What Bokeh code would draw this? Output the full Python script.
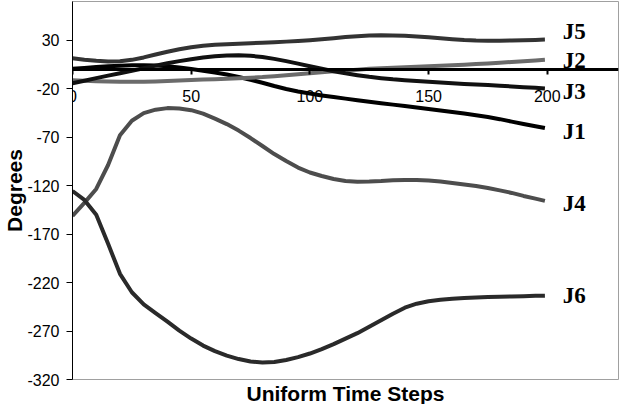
from bokeh.plotting import figure
from bokeh.models import FixedTicker, Title, Range1d
from bokeh.core.properties import value
from bokeh.embed import file_html
from bokeh.resources import INLINE

steps = [0, 5, 10, 15, 20, 25, 30, 35, 40, 45, 50, 55, 60, 65, 70, 75, 80, 85, 90, 95,
         100, 105, 110, 115, 120, 125, 130, 135, 140, 145, 150, 155, 160, 165, 170, 175,
         180, 185, 190, 195, 199]

j1 = [0.5, 1.5, 2.4, 3.2, 3.8, 4.2, 4.3, 4.0, 3.2, 1.9, 0.3, -1.4, -3.2, -5.4, -7.9, -10.8,
      -13.8, -17.2, -20.3, -22.9, -25.0, -26.9, -28.6, -30.2, -31.8, -33.4, -34.9, -36.4,
      -37.9, -39.4, -41.0, -42.5, -44.1, -45.6, -47.3, -49.2, -51.4, -53.9, -56.4, -58.7, -60.6]
j2 = [-11.2, -11.8, -12.3, -12.6, -12.8, -12.9, -12.8, -12.5, -12.1, -11.6, -11.1, -10.6,
      -10.1, -9.6, -9.1, -8.6, -8.0, -7.1, -6.1, -5.1, -4.0, -3.0, -2.0, -1.1, -0.3, 0.5,
      1.2, 1.7, 2.2, 2.7, 3.2, 3.8, 4.3, 4.8, 5.4, 6.1, 6.8, 7.6, 8.4, 9.2, 9.9]
j3 = [-14.3, -11.7, -9.1, -6.5, -4.0, -1.4, 1.2, 3.8, 6.3, 8.5, 10.5, 12.2, 13.5, 14.3, 14.5,
      14.0, 12.7, 10.8, 8.5, 5.9, 3.2, 0.6, -1.9, -4.1, -6.0, -7.7, -9.1, -10.3, -11.2, -12.0,
      -12.7, -13.5, -14.3, -15.0, -15.6, -16.2, -16.9, -17.6, -18.4, -19.1, -19.7]
j4 = [-151.2, -137.8, -123.4, -98.7, -68.0, -53.0, -45.2, -41.6, -40.0, -40.5, -42.1, -45.7,
      -50.8, -56.5, -63.2, -70.9, -79.1, -87.4, -94.6, -101.3, -106.4, -110.0, -113.1, -115.2,
      -115.9, -115.7, -115.2, -114.4, -114.1, -114.1, -114.6, -115.7, -117.2, -118.8, -120.3,
      -122.4, -124.9, -127.5, -130.6, -133.4, -135.7]
j5 = [11.5, 10.0, 8.9, 8.2, 8.3, 9.8, 12.3, 15.3, 18.2, 20.8, 22.8, 24.3, 25.4, 26.0, 26.5,
      27.0, 27.4, 28.0, 28.6, 29.3, 30.1, 31.1, 32.2, 33.3, 34.2, 34.8, 35.1, 35.0, 34.6, 34.0,
      33.1, 32.1, 31.1, 30.3, 29.8, 29.6, 29.6, 29.8, 30.1, 30.4, 30.7]
j6 = [-125.5, -134.7, -150.0, -180.0, -211.0, -230.0, -242.5, -251.5, -260.3, -269.6, -277.8,
      -285.0, -290.7, -295.3, -298.9, -301.5, -302.5, -302.0, -299.9, -296.9, -293.2, -288.6,
      -283.5, -277.8, -272.2, -265.5, -258.8, -252.1, -245.9, -241.8, -239.2, -237.7, -236.6,
      -235.9, -235.4, -234.9, -234.6, -234.3, -234.0, -233.7, -233.5]

series_colors = ["#000000", "#6b6b6b", "#111111", "#4d4d4d", "#333333", "#2a2a2a"]

label_names = ["J5", "J2", "J3", "J1", "J4", "J6"]
label_y = [39.0, 9.0, -23.0, -64.0, -138.0, -233.5]
label_x = [206.5, 206.5, 206.5, 206.5, 206.5, 206.5]

x_ticks = [0, 50, 100, 150, 200]
y_ticks = [30, -20, -70, -120, -170, -220, -270, -320]

p = figure(width=620, height=404, x_range=Range1d(0, 230), y_range=Range1d(-320, 70),
           output_backend="svg", toolbar_location=None,
           min_border_left=10, min_border_right=2, min_border_top=1, min_border_bottom=0)

p.xgrid.visible = False
p.ygrid.visible = False
p.outline_line_color = "#a0a0a0"
p.outline_line_width = 1
p.background_fill_color = "white"
p.border_fill_color = "white"

for ys, c in zip([j1, j2, j3, j4, j5, j6], series_colors):
    p.line(steps, ys, line_color=c, line_width=4, line_join="round")

p.text(x=label_x, y=label_y, text=label_names,
       text_font=value("Liberation Serif"), text_font_style="bold",
       text_font_size="23px", text_align="left", text_baseline="middle",
       text_color="black")

# x axis drawn along the zero line
xa = p.xaxis[0]
xa.fixed_location = 0
xa.ticker = FixedTicker(ticks=x_ticks)
xa.minor_tick_line_color = None
xa.axis_line_width = 3
xa.axis_line_color = "black"
xa.major_tick_line_width = 2
xa.major_tick_out = 5
xa.major_tick_in = 0
xa.major_label_standoff = 16
xa.major_label_text_font = "Liberation Sans"
xa.major_label_text_font_size = "16px"
xa.major_label_text_color = "black"

ya = p.yaxis[0]
ya.ticker = FixedTicker(ticks=y_ticks)
ya.major_label_overrides = {t: str(t) for t in y_ticks}
ya.minor_tick_line_color = None
ya.axis_line_color = "black"
ya.major_tick_out = 6
ya.major_tick_in = 0
ya.major_label_standoff = 7
ya.major_label_text_font = "Liberation Sans"
ya.major_label_text_font_size = "16px"
ya.major_label_text_color = "black"
ya.axis_label = "Degrees"
ya.axis_label_text_font = "Liberation Sans"
ya.axis_label_text_font_style = "bold"
ya.axis_label_text_font_size = "21px"
ya.axis_label_text_color = "black"
ya.axis_label_standoff = -2

p.add_layout(Title(text="Uniform Time Steps", align="center", text_font="Liberation Sans",
                   text_font_style="bold", text_font_size="21px", text_color="black",
                   standoff=0), "below")

open("out.html", "w").write(file_html(p, INLINE))
